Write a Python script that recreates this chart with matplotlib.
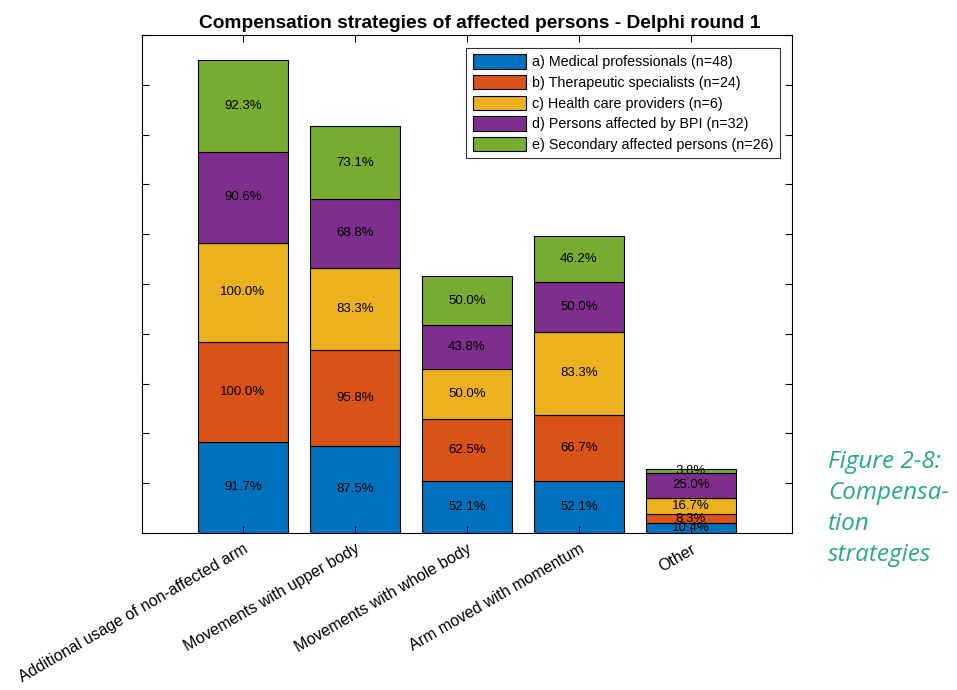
import numpy as np
import matplotlib.pyplot as plt

plt.rcParams['font.family'] = ['Liberation Sans', 'DejaVu Sans']

# data (percentages per group)
strategies = ['Additional usage of non-affected arm', 'Movements with upper body',
              'Movements with whole body', 'Arm moved with momentum', 'Other']
groups = ['a) Medical professionals (n=48)', 'b) Therapeutic specialists (n=24)',
          'c) Health care providers (n=6)', 'd) Persons affected by BPI (n=32)',
          'e) Secondary affected persons (n=26)']
medical = [91.7, 87.5, 52.1, 52.1, 10.4]
therapeutic = [100.0, 95.8, 62.5, 66.7, 8.3]
health_care = [100.0, 83.3, 50.0, 83.3, 16.7]
affected = [90.6, 68.8, 43.8, 50.0, 25.0]
secondary = [92.3, 73.1, 50.0, 46.2, 3.8]

colors = ['#0072BD', '#D95319', '#EDB120', '#7E2F8E', '#77AC30']
series = [medical, therapeutic, health_care, affected, secondary]

fig = plt.figure(figsize=(9.57, 6.9), dpi=100)
ax = fig.add_axes([0.1484, 0.2275, 0.679, 0.7217])

x = np.arange(1, len(strategies) + 1)
bottom = np.zeros(len(strategies))
for vals, col, lab in zip(series, colors, groups):
    vals = np.array(vals)
    ax.bar(x, vals, 0.8, bottom=bottom, color=col, edgecolor='black',
           linewidth=0.8, label=lab)
    for xi, b, v in zip(x, bottom, vals):
        ax.text(xi, b + v / 2, f'{v:.1f}%', ha='center', va='center',
                fontsize=9.5, color='black')
    bottom += vals

ax.set_xlim(0.1, 5.9)
ax.set_ylim(0, 500)
ax.set_yticks(np.arange(0, 501, 50))
ax.set_xticks(x)
ax.set_xticklabels(strategies, rotation=30, ha='right', rotation_mode='anchor',
                   fontsize=11.5)
ax.tick_params(direction='in', top=True, right=True, labelleft=False,
               length=5, width=0.8, pad=6)
for s in ax.spines.values():
    s.set_linewidth(0.8)

ax.set_title('Compensation strategies of affected persons - Delphi round 1',
             fontsize=13.8, fontweight='bold', pad=5, x=0.52)

leg = ax.legend(loc='upper right', bbox_to_anchor=(0.982, 0.974),
                fontsize=10.3, handlelength=3.7, handleheight=1.15,
                handletextpad=0.45, labelspacing=0.4, borderpad=0.45,
                borderaxespad=0, fancybox=False, framealpha=1,
                edgecolor='#333333')
leg.get_frame().set_linewidth(0.8)

fig.text(0.865, 0.348, 'Figure 2-8:\nCompensa-\ntion\nstrategies',
         fontsize=17.5, style='italic', color='#2AA888', ha='left', va='top',
         family=['Open Sans', 'DejaVu Sans'], linespacing=1.4)

fig.savefig('out.png', dpi=100)
